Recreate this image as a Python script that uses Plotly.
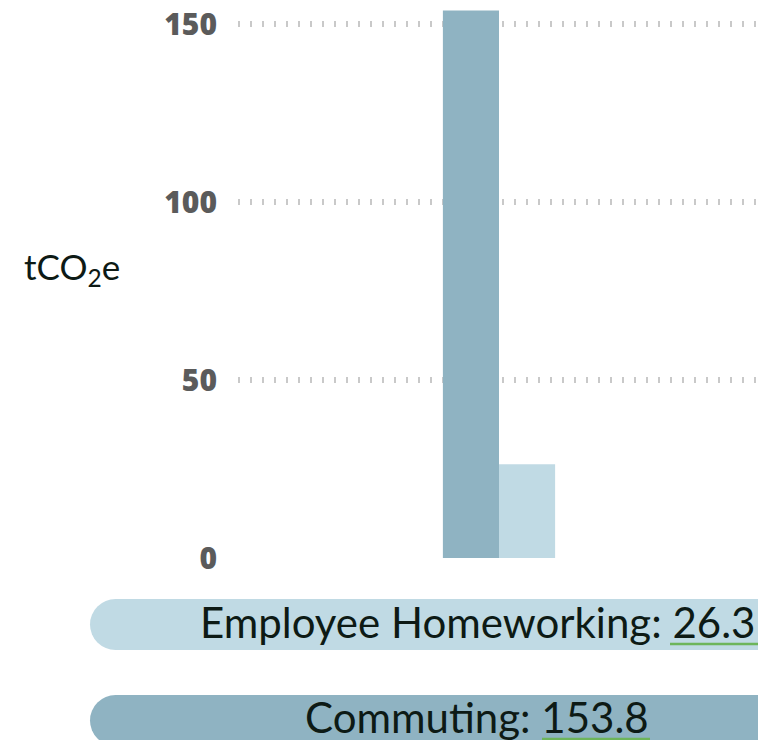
import plotly.graph_objects as go

# data
categories = ["Commuting", "Employee Homeworking"]
values = [153.8, 26.3]
bar_colors = ["#8fb3c2", "#c0dae4"]
y_ticks = [0, 50, 100, 150]

# page has an 8px body margin, so work in screen pixels and shift
OFF = 8
W, H = 766 - OFF, 740 - OFF
# plot area in screen pixels
PX0, PY0 = 238, 558
PX1, PYT = 760, OFF
PW, PH = PX1 - PX0, PY0 - PYT

fig = go.Figure()

for cat, val, col in zip(categories, values, bar_colors):
    fig.add_trace(go.Bar(
        x=[0], y=[val], name=cat,
        marker=dict(color=col, line=dict(width=0)),
        hoverinfo="skip",
    ))


def pill(py_top, py_bot, px_left, color):
    # rounded left end + long rect running off the right edge
    r = (py_bot - py_top) / 2
    common = dict(xref="paper", yref="paper", xsizemode="pixel", ysizemode="pixel",
                  xanchor=0, yanchor=0, fillcolor=color, line=dict(width=0), layer="above")
    fig.add_shape(type="circle", x0=px_left - PX0, x1=px_left + 2 * r - PX0,
                  y0=PY0 - py_bot, y1=PY0 - py_top, **common)
    fig.add_shape(type="rect", x0=px_left + r - PX0, x1=900 - PX0,
                  y0=PY0 - py_bot, y1=PY0 - py_top, **common)


def underline(px0, px1, py):
    fig.add_shape(type="line", xref="paper", yref="paper", xsizemode="pixel", ysizemode="pixel",
                  xanchor=0, yanchor=0, x0=px0 - PX0, x1=px1 - PX0, y0=PY0 - py, y1=PY0 - py,
                  line=dict(color="#6db55a", width=2.5), layer="above")


# legend pills (light = homeworking, dark = commuting)
pill(599, 650, 90, bar_colors[1])
pill(695, 746, 90, bar_colors[0])
underline(670, 758, 644)
underline(542, 650, 739)

label_font = dict(family="Lato, Noto Sans", size=42, color="#0d1a15")
fig.add_annotation(text=f"{categories[1]}: {values[1]}", xref="paper", yref="paper",
                   x=(477 - PX0) / PW, y=(PY0 - 622) / PH, showarrow=False,
                   xanchor="center", yanchor="middle", font=label_font)
fig.add_annotation(text=f"{categories[0]}: {values[0]}", xref="paper", yref="paper",
                   x=(477 - PX0) / PW, y=(PY0 - 717) / PH, showarrow=False,
                   xanchor="center", yanchor="middle", font=label_font)

# y axis title
fig.add_annotation(text="tCO<sub>2</sub>e", xref="paper", yref="paper",
                   x=(72 - PX0) / PW, y=(PY0 - 268) / PH, showarrow=False,
                   xanchor="center", yanchor="middle",
                   font=dict(family="Lato, Noto Sans", size=35, color="#0d1a15"))

# 150 at screen y=24, 0 at y=558
units_per_px = 150 / (558 - 24)
fig.update_xaxes(range=[-0.5, 0.5], showticklabels=False, showgrid=False,
                 zeroline=False, showline=False, ticks="", automargin=False)
fig.update_yaxes(range=[0, PH * units_per_px], tickvals=y_ticks, showgrid=True,
                 gridcolor="#c9c9c9", gridwidth=6, griddash="2px,10px",
                 zeroline=False, showline=False, ticks="", ticklabelstandoff=20,
                 ticklabeloverflow="allow", automargin=False,
                 tickfont=dict(family="Open Sans", size=30, color="#5b5b5b", weight=800))

fig.update_layout(
    width=W, height=H,
    barmode="group", bargap=0.785, bargroupgap=0,
    showlegend=False,
    plot_bgcolor="white", paper_bgcolor="white",
    margin=dict(l=PX0 - OFF, r=766 - PX1, t=PYT - OFF, b=740 - PY0),
)

fig.write_html("out.html")
